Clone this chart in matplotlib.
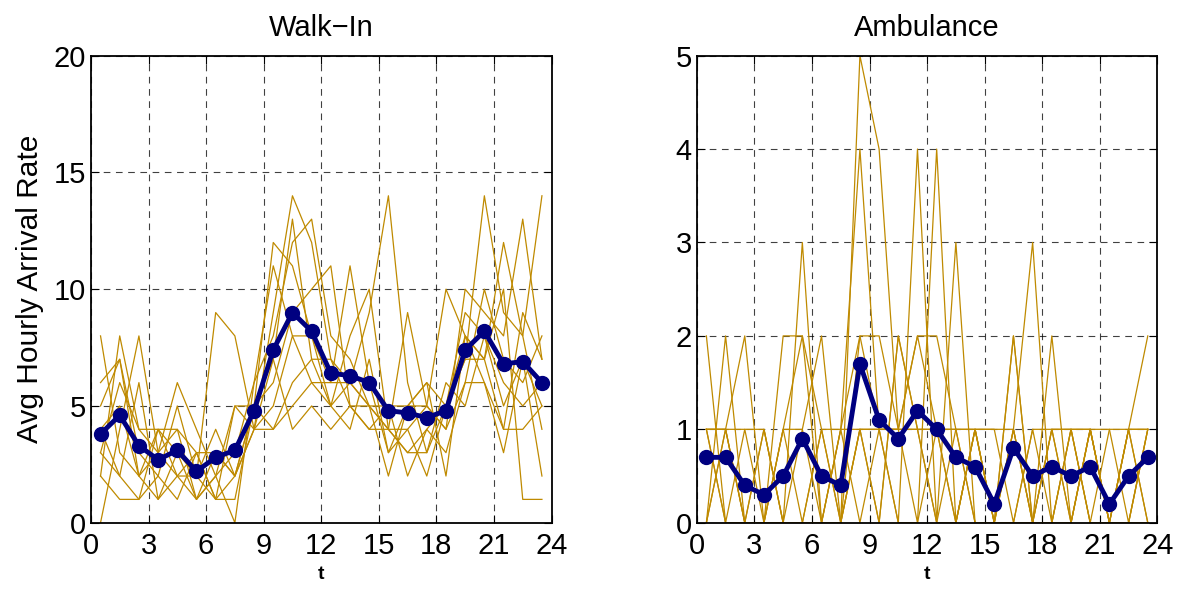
import numpy as np
import matplotlib
matplotlib.use('Agg')
import matplotlib.pyplot as plt

plt.rcParams['font.family'] = ['Liberation Sans', 'DejaVu Sans']

hours = np.arange(24) + 0.5

# walk-in: individual days (gold) and the average (blue)
walkin_days = [
    [8, 3, 2, 1, 2, 1, 3, 2, 4, 9, 14, 12, 7, 5, 4, 4, 3, 3, 5, 7, 14, 9, 8, 14],
    [0, 4, 8, 3, 2, 3, 1, 1, 5, 12, 11, 8, 6, 11, 6, 3, 4, 5, 4, 10, 9, 8, 13, 7],
    [6, 7, 3, 2, 5, 2, 9, 8, 4, 7, 13, 7, 5, 6, 9, 14, 6, 3, 6, 5, 8, 5, 7, 5],
    [2, 8, 4, 3, 4, 1, 2, 0, 6, 8, 12, 13, 8, 7, 5, 2, 5, 5, 10, 8, 7, 10, 1, 1],
    [4, 5, 2, 4, 4, 3, 3, 2, 5, 6, 9, 10, 11, 5, 4, 5, 2, 4, 3, 6, 10, 7, 6, 8],
    [3, 2, 6, 1, 3, 1, 2, 5, 4, 5, 8, 6, 5, 4, 7, 3, 5, 6, 2, 8, 6, 4, 9, 7],
    [5, 7, 2, 3, 6, 4, 2, 3, 6, 11, 8, 8, 5, 8, 10, 4, 4, 2, 5, 9, 8, 6, 5, 6],
    [3, 6, 4, 4, 3, 2, 4, 2, 5, 4, 6, 7, 7, 6, 5, 5, 5, 6, 5, 7, 7, 12, 8, 4],
    [4, 2, 1, 2, 1, 3, 1, 5, 5, 7, 4, 5, 4, 5, 5, 4, 9, 5, 4, 6, 6, 3, 7, 2],
    [2, 1, 1, 4, 2, 2, 1, 2, 4, 4, 5, 6, 6, 6, 5, 4, 3, 4, 5, 8, 7, 4, 4, 5],
]
walkin_mean = [3.8, 4.6, 3.3, 2.7, 3.1, 2.2, 2.8, 3.1, 4.8, 7.4, 9.0, 8.2,
               6.4, 6.3, 6.0, 4.8, 4.7, 4.5, 4.8, 7.4, 8.2, 6.8, 6.9, 6.0]

# ambulance
amb_days = [
    [2, 0, 1, 0, 0, 1, 0, 0, 5, 4, 1, 0, 4, 0, 1, 0, 1, 0, 1, 0, 1, 0, 0, 1],
    [0, 2, 0, 1, 0, 3, 0, 1, 4, 1, 0, 4, 0, 3, 0, 0, 2, 0, 0, 1, 0, 0, 1, 2],
    [1, 1, 2, 0, 1, 2, 1, 0, 2, 2, 1, 2, 2, 1, 1, 0, 1, 3, 0, 1, 1, 0, 1, 0],
    [1, 1, 0, 0, 1, 1, 2, 0, 1, 0, 2, 1, 1, 0, 1, 1, 1, 0, 2, 0, 1, 1, 0, 1],
    [0, 1, 1, 1, 0, 0, 1, 1, 2, 1, 1, 2, 1, 1, 0, 0, 2, 0, 1, 1, 0, 0, 1, 1],
    [1, 0, 0, 0, 2, 2, 0, 1, 0, 1, 1, 1, 0, 1, 1, 0, 0, 1, 1, 1, 1, 0, 1, 0],
    [1, 1, 0, 1, 0, 0, 1, 0, 1, 0, 2, 1, 1, 0, 1, 1, 0, 1, 0, 0, 1, 0, 0, 1],
    [0, 1, 0, 0, 1, 0, 0, 1, 1, 1, 0, 0, 1, 1, 0, 0, 1, 0, 0, 1, 0, 1, 1, 1],
    [1, 0, 0, 0, 0, 0, 0, 0, 1, 1, 1, 1, 0, 0, 1, 0, 0, 0, 1, 0, 1, 0, 0, 0],
    [0, 0, 0, 0, 0, 0, 0, 0, 0, 0, 0, 0, 0, 0, 0, 0, 0, 0, 0, 0, 0, 0, 0, 0],
]
amb_mean = [0.7, 0.7, 0.4, 0.3, 0.5, 0.9, 0.5, 0.4, 1.7, 1.1, 0.9, 1.2,
            1.0, 0.7, 0.6, 0.2, 0.8, 0.5, 0.6, 0.5, 0.6, 0.2, 0.5, 0.7]

gold = '#BF8A00'
navy = '#000080'

fig = plt.figure(figsize=(11.81, 5.92), dpi=100)
ax1 = fig.add_axes([0.077, 0.117, 0.390, 0.789])
ax2 = fig.add_axes([0.590, 0.117, 0.390, 0.789])

panels = [(ax1, walkin_days, walkin_mean, 'Walk\u2212In', 20, [0, 5, 10, 15, 20]),
          (ax2, amb_days, amb_mean, 'Ambulance', 5, [0, 1, 2, 3, 4, 5])]

for ax, days, mean, title, ymax, yticks in panels:
    for d in days:
        ax.plot(hours, d, color=gold, lw=0.9, zorder=2)
    ax.plot(hours, mean, color=navy, lw=3.5, marker='o', markersize=10, zorder=3)
    ax.set_xlim(0, 24)
    ax.set_ylim(0, ymax)
    ax.set_xticks(range(0, 25, 3))
    ax.set_yticks(yticks)
    ax.grid(True, color='black', linestyle=(0, (6, 5)), lw=0.8, alpha=0.75)
    ax.set_axisbelow(True)
    ax.tick_params(direction='in', labelsize=21, length=6, top=True, right=True)
    ax.tick_params(axis='x', pad=7)
    for s in ax.spines.values():
        s.set_linewidth(1.3)
    ax.set_title(title, fontsize=21, pad=14)
    ax.set_xlabel('t', fontsize=14, fontweight='bold', labelpad=4)

ax1.set_ylabel('Avg Hourly Arrival Rate', fontsize=21.5, labelpad=7)

fig.savefig('out.png', dpi=100)
